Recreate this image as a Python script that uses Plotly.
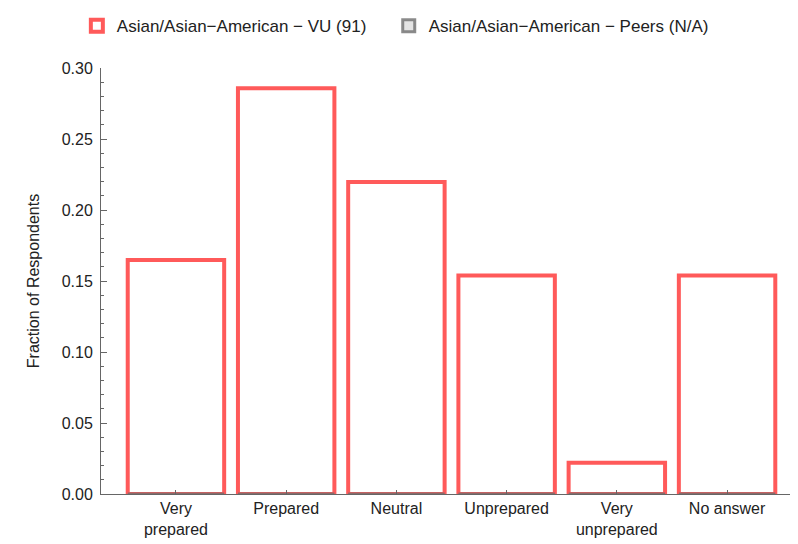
import plotly.graph_objects as go

categories = ["Very prepared", "Prepared", "Neutral", "Unprepared", "Very unprepared", "No answer"]
tick_labels = ["Very<br>prepared", "Prepared", "Neutral", "Unprepared", "Very<br>unprepared", "No answer"]
vu_values = [15/91, 26/91, 20/91, 14/91, 2/91, 14/91]
peers_values = [0, 0, 0, 0, 0, 0]
y_ticks = [0.0, 0.05, 0.10, 0.15, 0.20, 0.25, 0.30]

RED = "rgb(255,90,90)"
FONT = "Liberation Sans, Arial, sans-serif"
FS = 16

fig = go.Figure()
fig.add_trace(go.Bar(
    x=categories, y=vu_values, name="Asian/Asian\u2212American \u2212 VU (91)",
    marker=dict(color="white", line=dict(color=RED, width=4)),
    width=0.875, legend="legend",
))
fig.add_trace(go.Bar(
    x=categories, y=peers_values, name="Asian/Asian\u2212American \u2212 Peers (N/A)",
    marker=dict(color="rgb(228,228,228)", line=dict(color="rgba(110,110,110,0.8)", width=3)),
    width=0.875, legend="legend2",
))

legend_common = dict(orientation="h", xanchor="left", y=1.098, yanchor="middle",
                     font=dict(size=17, color="#222"), itemwidth=30,
                     bgcolor="rgba(0,0,0,0)")

fig.update_layout(
    width=798, height=544,
    margin=dict(l=93, r=15, t=60, b=58, autoexpand=False),
    paper_bgcolor="white", plot_bgcolor="white",
    barmode="overlay",
    font=dict(family=FONT, size=FS, color="#222"),
    showlegend=True,
    legend=dict(x=-0.035, **legend_common),
    legend2=dict(x=0.417, **legend_common),
    xaxis=dict(
        range=[-0.68, 5.58],
        tickmode="array", tickvals=categories, ticktext=tick_labels,
        showline=True, linecolor="#666", linewidth=1,
        ticks="inside", ticklen=4, tickcolor="#666",
        showgrid=False, zeroline=False,
        tickfont=dict(size=FS, color="#222"),
    ),
    yaxis=dict(
        range=[0, 0.30],
        tickvals=y_ticks, tickformat=".2f",
        showline=True, linecolor="#666", linewidth=1,
        ticks="inside", ticklen=6, tickcolor="#666",
        ticklabelstandoff=4,
        minor=dict(dtick=0.01, ticks="inside", ticklen=3, tickcolor="#666"),
        showgrid=False, zeroline=False,
        title=dict(text="Fraction of Respondents", font=dict(size=FS, color="#222"), standoff=18),
        tickfont=dict(size=FS, color="#222"),
    ),
)

fig.write_html("out.html")
